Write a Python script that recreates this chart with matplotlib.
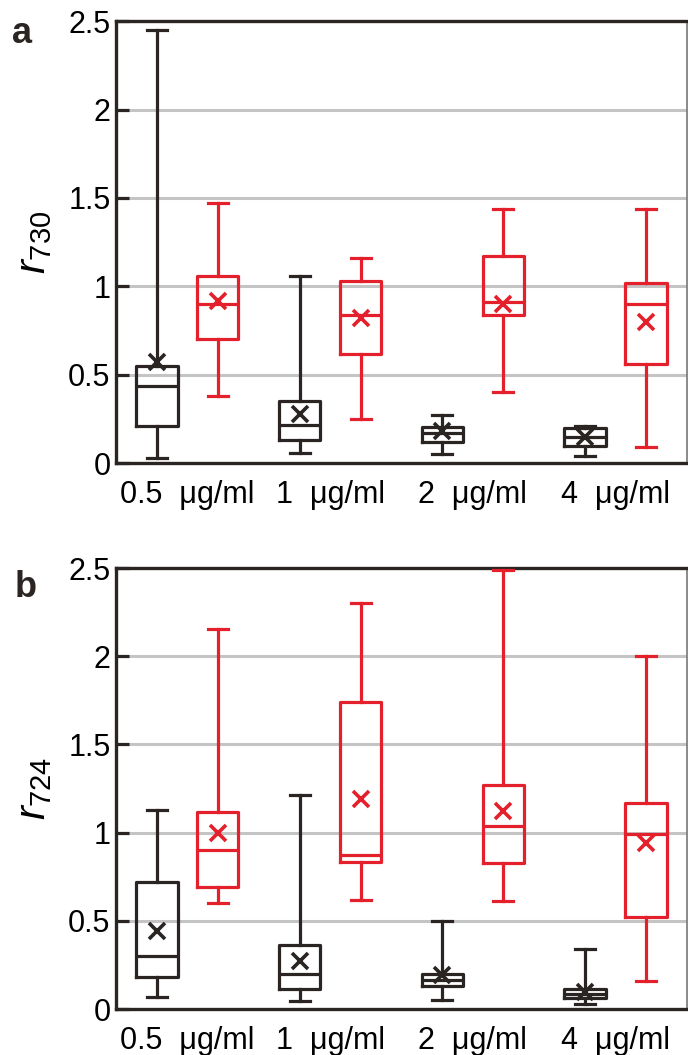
import matplotlib
matplotlib.use("Agg")
import matplotlib.pyplot as plt

plt.rcParams['font.family'] = ['Liberation Sans', 'DejaVu Sans']
plt.rcParams['mathtext.fontset'] = 'custom'
plt.rcParams['mathtext.rm'] = 'Liberation Sans'
plt.rcParams['mathtext.it'] = 'Liberation Sans:italic'

# ---------------- data ----------------
groups = ["0.5  \u03bcg/ml", "1  \u03bcg/ml", "2  \u03bcg/ml", "4  \u03bcg/ml"]

# panel a (r730): black series
a_black_whislo = [0.03, 0.055, 0.05, 0.04]
a_black_q1     = [0.212, 0.13, 0.12, 0.097]
a_black_med    = [0.434, 0.214, 0.17, 0.15]
a_black_q3     = [0.547, 0.354, 0.206, 0.20]
a_black_whishi = [2.45, 1.057, 0.27, 0.21]
a_black_mean   = [0.57, 0.28, 0.18, 0.15]
# panel a: red series
a_red_whislo = [0.38, 0.25, 0.40, 0.09]
a_red_q1     = [0.70, 0.62, 0.84, 0.56]
a_red_med    = [0.90, 0.84, 0.91, 0.90]
a_red_q3     = [1.057, 1.03, 1.17, 1.02]
a_red_whishi = [1.47, 1.16, 1.44, 1.44]
a_red_mean   = [0.917, 0.82, 0.90, 0.80]

# panel b (r724): black series
b_black_whislo = [0.07, 0.045, 0.05, 0.03]
b_black_q1     = [0.18, 0.115, 0.128, 0.064]
b_black_med    = [0.30, 0.20, 0.166, 0.083]
b_black_q3     = [0.72, 0.36, 0.20, 0.115]
b_black_whishi = [1.13, 1.215, 0.50, 0.34]
b_black_mean   = [0.44, 0.27, 0.19, 0.095]
# panel b: red series
b_red_whislo = [0.60, 0.62, 0.61, 0.16]
b_red_q1     = [0.69, 0.836, 0.827, 0.52]
b_red_med    = [0.90, 0.874, 1.035, 0.99]
b_red_q3     = [1.115, 1.74, 1.27, 1.17]
b_red_whishi = [2.155, 2.30, 2.49, 2.00]
b_red_mean   = [1.00, 1.19, 1.12, 0.94]

y_ticks = [0, 0.5, 1, 1.5, 2, 2.5]
y_ticklabels = ["0", "0.5", "1", "1.5", "2", "2.5"]

BLACK = '#2a2422'
RED = '#e3202b'
LW = 2.3


def make_stats(lo, q1, med, q3, hi, mean):
    return [dict(whislo=lo[i], q1=q1[i], med=med[i], q3=q3[i], whishi=hi[i],
                 mean=mean[i], fliers=[]) for i in range(len(lo))]


def draw(ax, black, red, ylabel):
    off = 0.213
    for stats, color, sign in [(black, BLACK, -1), (red, RED, 1)]:
        pos = [i + sign * off for i in range(len(stats))]
        lp = dict(color=color, linewidth=LW)
        ax.bxp(stats, positions=pos, widths=0.29, capwidths=0.14,
               showmeans=True, showfliers=False,
               boxprops=lp, whiskerprops=lp, capprops=lp,
               medianprops=dict(color=color, linewidth=LW),
               meanprops=dict(marker='x', markeredgecolor=color,
                              markerfacecolor=color, markersize=12,
                              markeredgewidth=2.6, linestyle='none'),
               manage_ticks=False, zorder=3)
    ax.set_xlim(-0.5, 3.5)
    ax.set_ylim(0, 2.5)
    ax.set_yticks(y_ticks)
    ax.set_yticklabels(y_ticklabels)
    ax.set_xticks(range(len(groups)))
    ax.set_xticklabels(groups)
    for y in y_ticks[1:-1]:
        ax.axhline(y, color='#c4c4c4', linewidth=2.2, zorder=1)
    ax.tick_params(axis='y', direction='in', length=9, width=2.3,
                   labelsize=22, pad=4, color=BLACK)
    ax.tick_params(axis='x', length=0, labelsize=22, pad=12)
    for s in ['left', 'bottom', 'top']:
        ax.spines[s].set_linewidth(2.4)
        ax.spines[s].set_color(BLACK)
    ax.spines['right'].set_linewidth(1.2)
    ax.spines['right'].set_color('#777777')
    ax.set_ylabel(ylabel, fontsize=30, labelpad=10)


fig = plt.figure(figsize=(6.88, 10.55), dpi=100)
ax1 = fig.add_axes([0.1686, 0.561, 0.8299, 0.419])
ax2 = fig.add_axes([0.1686, 0.0436, 0.8299, 0.418])

draw(ax1,
     make_stats(a_black_whislo, a_black_q1, a_black_med, a_black_q3, a_black_whishi, a_black_mean),
     make_stats(a_red_whislo, a_red_q1, a_red_med, a_red_q3, a_red_whishi, a_red_mean),
     r'$r_{\mathit{730}}$')
draw(ax2,
     make_stats(b_black_whislo, b_black_q1, b_black_med, b_black_q3, b_black_whishi, b_black_mean),
     make_stats(b_red_whislo, b_red_q1, b_red_med, b_red_q3, b_red_whishi, b_red_mean),
     r'$r_{\mathit{724}}$')

fig.text(0.018, 0.959, 'a', fontsize=26, fontweight='bold', color=BLACK)
fig.text(0.022, 0.434, 'b', fontsize=26, fontweight='bold', color=BLACK)

fig.savefig('out.png', dpi=100)
